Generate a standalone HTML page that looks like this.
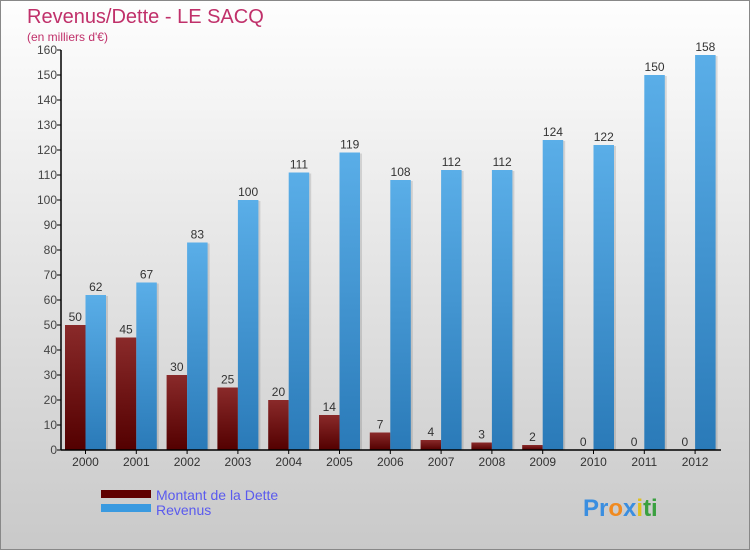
<!DOCTYPE html>
<html><head><meta charset="utf-8"><style>
body{margin:0;}
#c{position:relative;width:748px;height:548px;border:1px solid #888;background:linear-gradient(#fefefe,#c9c9c9);overflow:hidden;font-family:"Liberation Sans",sans-serif;}
</style></head><body>
<div id="c">
<svg id="s" width="748" height="548" xmlns="http://www.w3.org/2000/svg">
<defs>
<linearGradient id="gr" x1="0" y1="0" x2="0" y2="1"><stop offset="0" stop-color="#8a2a2a"/><stop offset="1" stop-color="#530000"/></linearGradient>
<linearGradient id="gb" x1="0" y1="0" x2="0" y2="1"><stop offset="0" stop-color="#5aaee8"/><stop offset="1" stop-color="#2a7ab8"/></linearGradient>
</defs>
<text x="26" y="22" font-size="20" fill="#c0306a">Revenus/Dette - LE SACQ</text>
<text x="26" y="40" font-size="12" fill="#c0306a">(en milliers d'€)</text>
<g id="g"></g>
<rect x="100" y="489" width="50" height="8" fill="#600000"/>
<text x="155" y="499" font-size="14" fill="#5a5aee">Montant de la Dette</text>
<rect x="100" y="503" width="50" height="8" fill="#3a9ae0"/>
<text x="155" y="514" font-size="14" fill="#5a5aee">Revenus</text>
<text x="582" y="515" font-size="24" font-weight="bold"><tspan fill="#3a8ee0">Pr</tspan><tspan fill="#f08a20">o</tspan><tspan fill="#3a8ee0">x</tspan><tspan fill="#e0c020">i</tspan><tspan fill="#3aa040">ti</tspan></text>
</svg>
</div>
<script>
const years=["2000","2001","2002","2003","2004","2005","2006","2007","2008","2009","2010","2011","2012"];
const dette=[50,45,30,25,20,14,7,4,3,2,0,0,0];
const revenus=[62,67,83,100,111,119,108,112,112,124,122,150,158];
const yTicks=[0,10,20,30,40,50,60,70,80,90,100,110,120,130,140,150,160];
const NS="http://www.w3.org/2000/svg";
const g=document.getElementById('g');
const x0=60,y0=449,ppu=2.5,step=50.8,first=84.5,bw=20.5;
const Y=v=>y0-v*ppu;
const X=i=>first+i*step;
function mk(t,a){const e=document.createElementNS(NS,t);for(const k in a)e.setAttribute(k,a[k]);g.appendChild(e);return e;}
yTicks.forEach(v=>{
  const l=mk('line',{x1:x0-4,x2:x0,y1:Y(v),y2:Y(v),stroke:'#000'});
  
  
  const t=mk('text',{x:x0-4,y:Y(v)+4,'font-size':12,fill:'#444','text-anchor':'end'});
  t.textContent=v;
  
  
});
years.forEach((yr,i)=>{
  const cx=X(i);
  [[dette[i],cx-bw,'url(#gr)','bar-dette-'],[revenus[i],cx,'url(#gb)','bar-revenus-']].forEach(([v,x,f,n])=>{
    const h=v*ppu;
    if(h>0){const sh=mk('rect',{x:x+2,y:Y(v)+1,width:bw,height:h-1,fill:'rgba(0,0,0,0.12)'});
      
      }
    const r=mk('rect',{x:x,y:Y(v),width:bw,height:h,fill:f});
    
    
    const t=mk('text',{x:x+bw/2,y:Y(v)-4,'font-size':12,fill:'#333','text-anchor':'middle'});
    t.textContent=v;
    
    
  });
  const tk=mk('line',{x1:cx,x2:cx,y1:y0,y2:y0+4,stroke:'#000'});
  
  
  const t=mk('text',{x:cx,y:y0+16,'font-size':12,fill:'#333','text-anchor':'middle'});
  t.textContent=yr;
  
  
});
const ya=mk('line',{x1:x0,x2:x0,y1:Y(160),y2:y0,stroke:'#000','stroke-width':1.5});


const xa=mk('line',{x1:x0,x2:720,y1:y0,y2:y0,stroke:'#000','stroke-width':1.5});


</script>
</body></html>
